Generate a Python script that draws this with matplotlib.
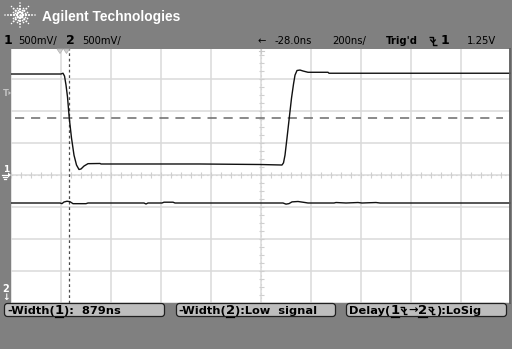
import matplotlib
matplotlib.use("Agg")
import matplotlib.pyplot as plt
import numpy as np
from matplotlib.patches import Rectangle, FancyBboxPatch, Polygon

# ---------------- scope settings ----------------
CH1_SCALE = 0.5        # V/div
TIMEBASE = 200         # ns/div
T_LEFT = -228          # ns at left edge of graticule
CH2_OFFSET = -2.0      # V, channel 2 ground at the bottom edge
TRIG_LEVEL = 1.25      # V
THRESHOLD = 0.89       # V, measurement mid threshold (dashed)
MARKER_T = 5           # ns, measurement marker (dashed vertical)

# ---------------- waveform data ----------------
ch1_t = [-228, -28, -20, -14, -8, -2, 5, 14, 24, 34, 44, 52, 64, 80, 128, 132,
         248, 528, 768, 856, 862, 868, 876, 885, 894, 902, 908, 916, 928, 940,
         960, 1040, 1044, 1768]
ch1_v = [1.578, 1.578, 1.59, 1.547, 1.406, 1.22, 0.89, 0.578, 0.31, 0.156,
         0.086, 0.094, 0.14, 0.177, 0.18, 0.172, 0.172, 0.172, 0.164, 0.156,
         0.19, 0.31, 0.578, 0.89, 1.20, 1.42, 1.56, 1.633, 1.64, 1.625,
         1.605, 1.605, 1.59, 1.59]

ch2_t = [-228, -32, -24, -16, -4, 8, 20, 72, 80, 304, 312, 320, 376, 384, 420,
         428, 860, 872, 884, 896, 920, 948, 960, 1064, 1072, 1112, 1160, 1176,
         1232, 1248, 1768]
ch2_v = [1.5625, 1.5625, 1.553, 1.578, 1.59, 1.583, 1.552, 1.552, 1.5625,
         1.5625, 1.547, 1.5625, 1.5625, 1.575, 1.575, 1.5625, 1.5625, 1.545,
         1.553, 1.58, 1.586, 1.57, 1.5625, 1.5625, 1.57, 1.5625, 1.57, 1.5625,
         1.57, 1.5625, 1.5625]

# ---------------- text ----------------
brand = "Agilent Technologies"
ch_scale_txt = "500mV/"
delay_txt = "-28.0ns"
timebase_txt = "200ns/"
trig_txt = "Trig'd"
level_txt = "1.25V"
meas1 = "879ns"
meas2 = "Low  signal"
meas3 = "LoSig"

W, H = 512, 349
BG = "#808080"
fig = plt.figure(figsize=(W / 100, H / 100), dpi=100, facecolor=BG)

# ---------------- graticule axes ----------------
ax = fig.add_axes([11 / W, 1 - 303 / H, 500 / W, 256 / H])
ax.set_facecolor("white")
ax.set_xlim(T_LEFT, T_LEFT + 10 * TIMEBASE)
ax.set_ylim(-4 * CH1_SCALE, 4 * CH1_SCALE)
ax.set_xticks(np.arange(T_LEFT, T_LEFT + 10 * TIMEBASE + 1, TIMEBASE))
ax.set_yticks(np.arange(-4, 5) * CH1_SCALE)
ax.grid(True, color="#dadada", lw=1.1)
ax.tick_params(length=0, labelbottom=False, labelleft=False)
for s in ax.spines.values():
    s.set_visible(False)

tc = T_LEFT + 5 * TIMEBASE
# centre cross with minor ticks
ax.axhline(0, color="#d6d6d6", lw=0.8, dashes=(1.5, 2.5))
ax.axvline(tc, color="#d6d6d6", lw=0.8, dashes=(1.5, 2.5))
mt = np.arange(T_LEFT, T_LEFT + 10 * TIMEBASE + 1, TIMEBASE / 5)
ax.vlines(mt, -0.04, 0.04, color="#cfcfcf", lw=0.8)
mv = np.arange(-4, 4.01, 0.25) * CH1_SCALE
ax.hlines(mv, tc - 10, tc + 10, color="#cfcfcf", lw=0.8)

# threshold & marker
ax.plot([T_LEFT + 16, T_LEFT + 10 * TIMEBASE - 32], [THRESHOLD, THRESHOLD],
        color="#6a6a6a", lw=1.1, dashes=(6, 4.5))
ax.axvline(MARKER_T, color="#4a4a4a", lw=0.9, dashes=(2.2, 2.2))

# traces
ax.plot(ch1_t, ch1_v, color="#111111", lw=1.0, solid_joinstyle="round")
ax.plot(ch2_t, np.array(ch2_v) + CH2_OFFSET, color="#111111", lw=1.0)

# ---------------- overlay (pixel space) ----------------
ov = fig.add_axes([0, 0, 1, 1])
ov.set_xlim(0, W)
ov.set_ylim(H, 0)
ov.axis("off")
ov.patch.set_alpha(0)

ov.add_patch(Rectangle((0, 0), W, 48.5, color=BG, lw=0))
ov.add_patch(Rectangle((0, 0), 11, H, color=BG, lw=0))
ov.add_patch(Rectangle((511, 0), 1, H, color=BG, lw=0))
ov.plot([510.3, 510.3], [48.5, 303], color="#5a5a5a", lw=1.3)

# logo starburst
cx, cy = 20, 15
for ang in np.arange(0, 360, 45):
    a = np.radians(ang)
    rmax = 16 if ang % 180 == 0 else (13 if ang % 90 == 0 else 12)
    rs = np.arange(3, rmax + 0.1, 3)
    ov.scatter(cx + rs * np.cos(a), cy - rs * np.sin(a),
               s=np.linspace(3.5, 1.2, len(rs)), color="white", lw=0)
for ang in np.arange(22.5, 360, 45):
    a = np.radians(ang)
    rs = np.array([5, 8])
    ov.scatter(cx + rs * np.cos(a), cy - rs * np.sin(a), s=1.5, color="white", lw=0)
ov.scatter([cx], [cy], s=4, color="white", lw=0)

ov.text(42, 16.5, brand, color="white", fontsize=9.9, fontweight="bold",
        family="Liberation Sans", va="center", ha="left")

# status line
TXT = dict(color="black", fontsize=7.2, family="DejaVu Sans", va="center", ha="left")
BIG = dict(color="black", fontsize=9, fontweight="bold", family="DejaVu Sans",
           va="center", ha="left")
y2 = 41
ov.text(3.5, y2, "1", **BIG)
ov.text(18, y2, ch_scale_txt, **TXT)
ov.text(66, y2, "2", **BIG)
ov.text(82, y2, ch_scale_txt, **TXT)
ov.text(257, y2, "\u2190", **TXT)
ov.text(275, y2, delay_txt, **TXT)
ov.text(332, y2, timebase_txt, **TXT)
ov.text(386, y2, trig_txt, **dict(TXT, fontweight="bold"))
ov.text(441, y2, "1", **BIG)
ov.text(467, y2, level_txt, **TXT)


def edge(x0, yc, w=8, h=8, col="black"):
    ov.plot([x0, x0 + w / 2, x0 + w / 2, x0 + w], [yc - h / 2, yc - h / 2, yc + h / 2, yc + h / 2],
            color=col, lw=1.0, solid_capstyle="butt")
    ov.plot([x0 + w / 2 - 2.2, x0 + w / 2, x0 + w / 2 + 2.2], [yc - 1, yc + 1.4, yc - 1],
            color=col, lw=1.0)


edge(429, y2)

# top markers
for x0 in (57, 63.5):
    ov.add_patch(Polygon([[x0, 49], [x0 + 6, 49], [x0 + 3, 53.5]], closed=True,
                         fc="#d0d0d0", ec="#b0b0b0", lw=0.5))
ov.plot([261, 261], [49, 53], color="#c8c8c8", lw=0.8)
ov.plot([258.5, 263.5], [51, 51], color="#c8c8c8", lw=0.8)

# left strip markers
ov.text(3, 93, "T", color="#c4c4c4", fontsize=6, fontweight="bold",
        family="DejaVu Sans", va="center", ha="left")
ov.add_patch(Polygon([[8.5, 91], [11, 93], [8.5, 95]], closed=True, fc="#c4c4c4", lw=0))
ov.text(3, 169.5, "1", color="white", fontsize=6.5, fontweight="bold",
        family="DejaVu Sans", va="center", ha="left")
ov.plot([2, 8], [175, 175], color="white", lw=0.9)
ov.plot([3, 7], [177, 177], color="white", lw=0.9)
ov.plot([4, 6], [179, 179], color="white", lw=0.9)
ov.add_patch(Polygon([[8, 172.5], [11, 175], [8, 177.5]], closed=True, fc="white", lw=0))
ov.text(2, 289, "2", color="white", fontsize=7, fontweight="bold",
        family="DejaVu Sans", va="center", ha="left")
ov.text(2, 298, "\u2193", color="white", fontsize=6.5, fontweight="bold",
        family="DejaVu Sans", va="center", ha="left")

# ---------------- softkey buttons ----------------
for x0, x1 in ((3, 166), (175, 337), (345, 508)):
    ov.add_patch(FancyBboxPatch((x0 + 2, 304), x1 - x0 - 4, 12,
                                boxstyle="round,pad=0.5,rounding_size=3",
                                fc="#bdbdbd", ec="#202020", lw=0.9))

renderer = fig.canvas.get_renderer()
BTN = dict(color="black", fontsize=8.2, fontweight="bold", family="DejaVu Sans",
           va="center", ha="left")
BTNBIG = dict(BTN, fontsize=9.5)


def run(x, y, pieces):
    for kind, val in pieces:
        if kind == "edge":
            edge(x + 1, y, w=7, h=7)
            x += 9
            continue
        props = BTNBIG if kind == "big" else BTN
        t = ov.text(x, y, val, **props)
        bb = t.get_window_extent(renderer)
        if kind == "big":
            ov.plot([x + 0.5, x + bb.width - 0.5], [y + 6, y + 6], color="black", lw=0.9)
        x += bb.width


yb = 310.5
run(7, yb, [("t", "-Width("), ("big", "1"), ("t", "):  " + meas1)])
run(178, yb, [("t", "-Width("), ("big", "2"), ("t", "):" + meas2)])
run(349, yb, [("t", "Delay("), ("big", "1"), ("edge", None), ("t", "\u2192"),
              ("big", "2"), ("edge", None), ("t", "):" + meas3)])

fig.savefig("out.png", dpi=100, facecolor=BG)
